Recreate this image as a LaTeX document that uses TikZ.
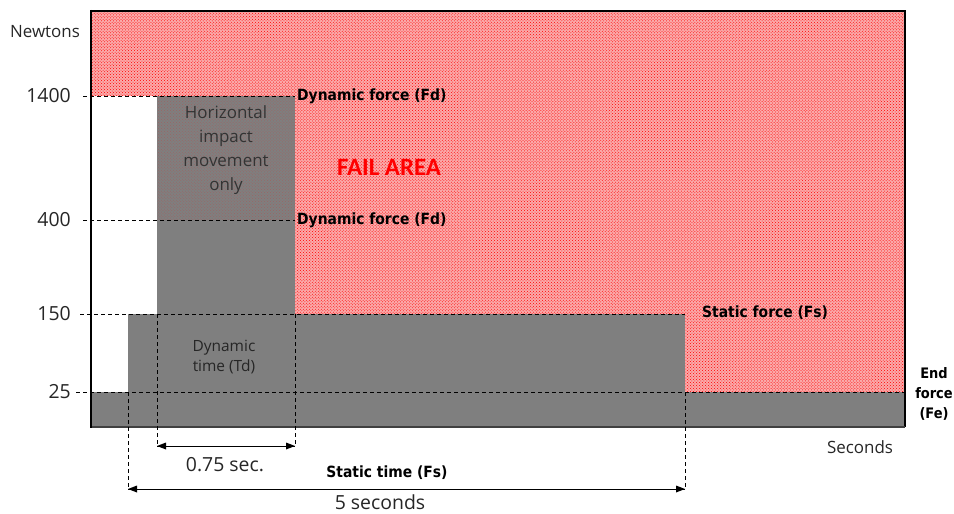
\documentclass[tikz,border=0pt]{standalone}
\usepackage{fontspec}
\setmainfont{Open Sans}
\newfontfamily\lblfont{DejaVu Sans Condensed}
\newfontfamily\failfont{Carlito}
\usetikzlibrary{patterns,arrows.meta}
\definecolor{barfill}{RGB}{127,127,127}
\definecolor{failbg}{RGB}{250,170,170}
\definecolor{txt}{RGB}{38,38,38}
\definecolor{bottomline}{RGB}{64,64,64}
\begin{document}
\begin{tikzpicture}[x=1bp,y=-1bp,
  dashln/.style={draw=black, line width=0.9bp, dash pattern=on 4bp off 3bp},
  dimarrow/.style={draw=black, line width=0.9bp},
  tiphead/.style={fill=black},
  failzone/.style={fill=failbg, postaction={pattern=crosshatch dots, pattern color=red}},
  bar/.style={fill=barfill},
  axlab/.style={inner sep=0pt, text=txt, font=\fontsize{17}{20}\selectfont},
  numlab/.style={inner sep=0pt, text=txt, font=\fontsize{19.5}{22}\selectfont},
  boldlab/.style={inner sep=0pt, text=black, font=\lblfont\bfseries\fontsize{15.5}{20}\selectfont},
  inlab/.style={inner sep=0pt, text=txt, align=center},
]
\useasboundingbox (0,0) rectangle (954,514);

% fail area
\path[failzone] (91,11) -- (905,11) -- (905,392) -- (685,392) -- (685,314)
  -- (295,314) -- (295,96) -- (91,96) -- cycle;
% grey bars
\fill[bar] (91,392) rectangle (905,427);
\fill[bar] (128,314) rectangle (685,392);
\fill[bar] (157,220) rectangle (295,314);
\fill[bar] (157,96) rectangle (295,220);
\fill[pattern=crosshatch dots, pattern color=red, opacity=0.22] (157,96) rectangle (295,220);

% frame
\draw[line width=1.5bp] (91,11) -- (905,11) -- (905,427);
\draw[bottomline, line width=2bp] (91,427) -- (905,427);
\draw[line width=2bp] (91,10) -- (91,428);

% coordinates
\coordinate (d1400a) at (83,96);  \coordinate (d1400b) at (295,96);
\coordinate (d400a) at (83,220);  \coordinate (d400b) at (295,220);
\coordinate (d150a) at (80,314);  \coordinate (d150b) at (685,314);
\coordinate (d25a) at (76,392);   \coordinate (d25b) at (905,392);
\coordinate (vTdLa) at (157,314); \coordinate (vTdLb) at (157,447);
\coordinate (vTdRa) at (295,314); \coordinate (vTdRb) at (295,447);
\coordinate (vTsLa) at (128,392); \coordinate (vTsLb) at (128,489);
\coordinate (vTsRa) at (685,392); \coordinate (vTsRb) at (685,489);
\coordinate (aTdL) at (157,446);  \coordinate (aTdR) at (295,446);
\coordinate (aTsL) at (128,489);  \coordinate (aTsR) at (685,489);

% dashed guide lines
\draw[dashln] (d1400a) -- (d1400b);
\draw[dashln] (d400a) -- (d400b);
\draw[dashln] (d150a) -- (d150b);
\draw[dashln] (d25a) -- (d25b);
\draw[dashln] (vTdLa) -- (vTdLb);
\draw[dashln] (vTdRa) -- (vTdRb);
\draw[dashln] (vTsLa) -- (vTsLb);
\draw[dashln] (vTsRa) -- (vTsRb);

% dimension arrows with filled heads
\draw[dimarrow] (aTdL) -- (aTdR);
\draw[dimarrow] (aTsL) -- (aTsR);
\fill[tiphead] (aTdL) -- ++(9,-3.5) -- ++(0,7) -- cycle;
\fill[tiphead] (aTdR) -- ++(-9,-3.5) -- ++(0,7) -- cycle;
\fill[tiphead] (aTsL) -- ++(9,-3.5) -- ++(0,7) -- cycle;
\fill[tiphead] (aTsR) -- ++(-9,-3.5) -- ++(0,7) -- cycle;

% axis labels
\node[axlab] (newtons) at (45,32) {Newtons};
\node[axlab] (seconds) at (860,447) {Seconds};
\node[numlab, anchor=east] (n1400) at (71,96) {1400};
\node[numlab, anchor=east] (n400) at (71,220) {400};
\node[numlab, anchor=east] (n150) at (71,314) {150};
\node[numlab, anchor=east] (n25) at (71,392) {25};

% bold labels
\node[boldlab, anchor=west] (fd1) at (297,96) {Dynamic force (Fd)};
\node[boldlab, anchor=west] (fd2) at (297,220) {Dynamic force (Fd)};
\node[boldlab, anchor=west] (fs) at (702,313) {Static force (Fs)};
\node[boldlab, align=center, font=\lblfont\bfseries\fontsize{14.5}{20}\selectfont] (fe) at (934,394) {End\\force\\(Fe)};
\node[boldlab] (ts) at (387,473) {Static time (Fs)};
\node[inner sep=0pt, text=red, font=\failfont\bfseries\fontsize{25}{28}\selectfont] (fail) at (389,167) {FAIL AREA};

% inner labels
\node[inlab, font=\fontsize{17}{24}\selectfont, text=black!80] (impact) at (226,150) {Horizontal\\impact\\movement\\only};
\node[inlab, font=\fontsize{15.5}{20}\selectfont] (tdlab) at (224,357) {Dynamic\\time (Td)};
\node[numlab] (sec075) at (225,465) {0.75 sec.};
\node[numlab] (sec5) at (380,502) {5 seconds};
\end{tikzpicture}
\end{document}
